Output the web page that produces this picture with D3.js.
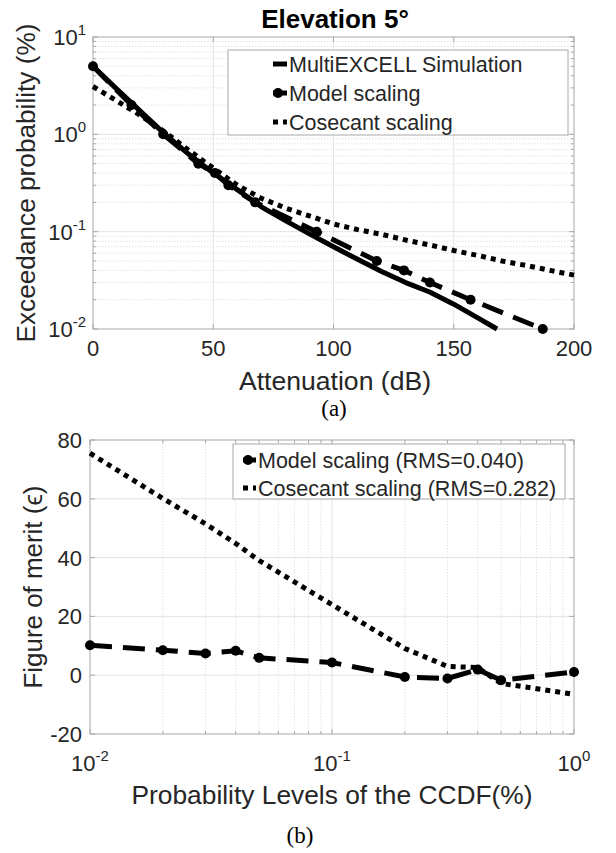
<!DOCTYPE html>
<html><head><meta charset="utf-8">
<script src="https://cdn.jsdelivr.net/npm/d3@7"></script>
<style>
body{margin:0;background:#fff}
svg{display:block}
text{font-family:"Liberation Sans",Arial,Helvetica,sans-serif;fill:#262626}
text.serif{font-family:"Liberation Serif","Times New Roman",serif;fill:#000}
text.title{fill:#000}
</style>
</head><body>
<svg id="c" width="616" height="853"></svg>
<script>
// ---------- Data: panel (a) ----------
const titleA = "Elevation 5°";
const attenSim = [0,10,20,30,40,50,60,70,80,90,100,110,120,130,140,150,160,168];
const probSim  = [5,2.9,1.7,1.0,0.62,0.4,0.27,0.18,0.13,0.095,0.07,0.052,0.039,0.03,0.024,0.018,0.013,0.01];
const attenModel = [0,16,29.2,43.8,50.7,56.3,67.4,93,118,129.3,140.1,157,187];
const probModel  = [5,2,1,0.5,0.4,0.3,0.2,0.1,0.05,0.04,0.03,0.02,0.01];
const attenCsc = [0,10,20,30,40,50,60,70,80,90,100,110,120,130,140,150,160,170,180,190,200];
const probCsc  = [3.1,2.2,1.55,1.05,0.68,0.45,0.3,0.22,0.175,0.145,0.12,0.105,0.094,0.082,0.073,0.064,0.057,0.05,0.045,0.04,0.0358];
const xTicksA = [0,50,100,150,200];
const yTicksA = [0.01,0.1,1,10];
const yTickExpA = ["-2","-1","0","1"];
const legendA = ["MultiEXCELL Simulation","Model scaling","Cosecant scaling"];

// ---------- Data: panel (b) ----------
const probLevels = [0.01,0.02,0.03,0.04,0.05,0.1,0.2,0.3,0.4,0.5,1];
const meritModel = [10.2,8.5,7.4,8.3,5.9,4.3,-0.6,-1.1,1.9,-1.7,1.1];
const meritCsc   = [75.5,60.1,51.5,44.8,39,24,9.1,3.0,2.6,-2.8,-6.5];
const xTicksB = [0.01,0.1,1];
const xTickExpB = ["-2","-1","0"];
const yTicksB = [-20,0,20,40,60,80];
const legendB = ["Model scaling (RMS=0.040)","Cosecant scaling (RMS=0.282)"];

const svg = d3.select("#c");
const GRID = "#e3e3e3", FRAME = "#a8a8a8";
const LW = 5;
const DASH = "22,11", DOT = "5,5";

function minorLog(lo, hi){
  const out=[];
  for(let e=Math.floor(Math.log10(lo)); e<Math.ceil(Math.log10(hi)); e++){
    for(let k=2;k<=9;k++){ const v=k*Math.pow(10,e); if(v>lo && v<hi) out.push(v); }
  }
  return out;
}

// ---------- Panel (a) ----------
const A = {l:93,r:574,t:37,b:329};
const xA = d3.scaleLinear().domain([0,200]).range([A.l,A.r]);
const yA = d3.scaleLog().domain([0.01,10]).range([A.b,A.t]);
const gA = svg.append("g");

gA.selectAll(".gmy").data(minorLog(0.01,10)).join("line")
  .attr("x1",A.l).attr("x2",A.r).attr("y1",d=>yA(d)).attr("y2",d=>yA(d))
  .attr("stroke",GRID).attr("stroke-dasharray","1.5,1.5");
gA.selectAll(".gy").data(yTicksA.slice(1,-1)).join("line")
  .attr("x1",A.l).attr("x2",A.r).attr("y1",d=>yA(d)).attr("y2",d=>yA(d))
  .attr("stroke",GRID);
gA.selectAll(".gx").data(xTicksA.slice(1,-1)).join("line")
  .attr("y1",A.t).attr("y2",A.b).attr("x1",d=>xA(d)).attr("x2",d=>xA(d))
  .attr("stroke",GRID);
const tkA = gA.append("g").attr("stroke",FRAME);
minorLog(0.01,10).forEach(v=>{
  tkA.append("line").attr("x1",A.l).attr("x2",A.l+3).attr("y1",yA(v)).attr("y2",yA(v));
  tkA.append("line").attr("x1",A.r).attr("x2",A.r-3).attr("y1",yA(v)).attr("y2",yA(v));
});
yTicksA.forEach(v=>{
  tkA.append("line").attr("x1",A.l).attr("x2",A.l+5).attr("y1",yA(v)).attr("y2",yA(v));
  tkA.append("line").attr("x1",A.r).attr("x2",A.r-5).attr("y1",yA(v)).attr("y2",yA(v));
});
xTicksA.forEach(v=>{
  tkA.append("line").attr("x1",xA(v)).attr("x2",xA(v)).attr("y1",A.b).attr("y2",A.b-5);
  tkA.append("line").attr("x1",xA(v)).attr("x2",xA(v)).attr("y1",A.t).attr("y2",A.t+5);
});
gA.append("rect").attr("x",A.l).attr("y",A.t).attr("width",A.r-A.l).attr("height",A.b-A.t)
  .attr("fill","none").attr("stroke",FRAME);

gA.selectAll(".xl").data(xTicksA).join("text")
  .attr("x",d=>xA(d)).attr("y",A.b+27).attr("text-anchor","middle")
  .attr("font-size",22).text(d=>d);
yTicksA.forEach((v,i)=>{
  const t = gA.append("text").attr("x",86).attr("y",yA(v)+8).attr("text-anchor","end").attr("font-size",22);
  t.append("tspan").text("10");
  t.append("tspan").attr("dy",-10).attr("font-size",15).text(yTickExpA[i]);
});

const lineA = (xs,ys)=>d3.line().x((d,i)=>xA(xs[i])).y((d,i)=>yA(ys[i]))(xs);
gA.append("path").attr("d",lineA(attenCsc,probCsc)).attr("fill","none")
  .attr("stroke","#000").attr("stroke-width",LW).attr("stroke-dasharray",DOT);
gA.append("path").attr("d",lineA(attenSim,probSim)).attr("fill","none")
  .attr("stroke","#000").attr("stroke-width",LW).attr("stroke-linejoin","round");
gA.append("path").attr("d",lineA(attenModel,probModel)).attr("fill","none")
  .attr("stroke","#000").attr("stroke-width",LW).attr("stroke-dasharray",DASH);
gA.selectAll(".mk").data(attenModel).join("circle")
  .attr("cx",d=>xA(d)).attr("cy",(d,i)=>yA(probModel[i])).attr("r",5).attr("fill","#000");

svg.append("text").attr("class","title").attr("x",335).attr("y",28).attr("text-anchor","middle")
  .attr("font-size",26).attr("font-weight","bold").text(titleA);
svg.append("text").attr("x",335).attr("y",390).attr("text-anchor","middle")
  .attr("font-size",25).attr("textLength",192).attr("lengthAdjust","spacingAndGlyphs").text("Attenuation (dB)");
svg.append("text").attr("transform","translate(35,183) rotate(-90)").attr("text-anchor","middle")
  .attr("font-size",25).attr("textLength",319).attr("lengthAdjust","spacingAndGlyphs").text("Exceedance probability (%)");
svg.append("text").attr("class","serif").attr("x",334).attr("y",416).attr("text-anchor","middle")
  .attr("font-size",23).text("(a)");

const LA = {x:228,y:50,w:340,h:85};
gA.append("rect").attr("x",LA.x).attr("y",LA.y).attr("width",LA.w).attr("height",LA.h)
  .attr("fill","#fff").attr("stroke",FRAME);
const lyA = [64,93,122];
const styA = [null, DASH, DOT];
legendA.forEach((s,i)=>{
  gA.append("line").attr("x1",273).attr("x2",287).attr("y1",lyA[i]).attr("y2",lyA[i])
    .attr("stroke","#000").attr("stroke-width",LW).attr("stroke-dasharray",styA[i]);
  if(i===1) gA.append("circle").attr("cx",278).attr("cy",lyA[i]).attr("r",5).attr("fill","#000");
  gA.append("text").attr("x",289).attr("y",lyA[i]+7.5).attr("font-size",21.5).text(s);
});

// ---------- Panel (b) ----------
const B = {l:90,r:574,t:440,b:734};
const xB = d3.scaleLog().domain([0.01,1]).range([B.l,B.r]);
const yB = d3.scaleLinear().domain([-20,80]).range([B.b,B.t]);
const gB = svg.append("g");

gB.selectAll(".gmx").data(minorLog(0.01,1)).join("line")
  .attr("y1",B.t).attr("y2",B.b).attr("x1",d=>xB(d)).attr("x2",d=>xB(d))
  .attr("stroke",GRID).attr("stroke-dasharray","1.5,1.5");
gB.selectAll(".gx").data(xTicksB.slice(1,-1)).join("line")
  .attr("y1",B.t).attr("y2",B.b).attr("x1",d=>xB(d)).attr("x2",d=>xB(d)).attr("stroke",GRID);
gB.selectAll(".gy").data(yTicksB.slice(1,-1)).join("line")
  .attr("x1",B.l).attr("x2",B.r).attr("y1",d=>yB(d)).attr("y2",d=>yB(d)).attr("stroke",GRID);
const tkB = gB.append("g").attr("stroke",FRAME);
minorLog(0.01,1).forEach(v=>{
  tkB.append("line").attr("x1",xB(v)).attr("x2",xB(v)).attr("y1",B.b).attr("y2",B.b-3);
  tkB.append("line").attr("x1",xB(v)).attr("x2",xB(v)).attr("y1",B.t).attr("y2",B.t+3);
});
xTicksB.forEach(v=>{
  tkB.append("line").attr("x1",xB(v)).attr("x2",xB(v)).attr("y1",B.b).attr("y2",B.b-5);
  tkB.append("line").attr("x1",xB(v)).attr("x2",xB(v)).attr("y1",B.t).attr("y2",B.t+5);
});
yTicksB.forEach(v=>{
  tkB.append("line").attr("x1",B.l).attr("x2",B.l+5).attr("y1",yB(v)).attr("y2",yB(v));
  tkB.append("line").attr("x1",B.r).attr("x2",B.r-5).attr("y1",yB(v)).attr("y2",yB(v));
});
gB.append("rect").attr("x",B.l).attr("y",B.t).attr("width",B.r-B.l).attr("height",B.b-B.t)
  .attr("fill","none").attr("stroke",FRAME);

gB.selectAll(".yl").data(yTicksB).join("text")
  .attr("x",82).attr("y",d=>yB(d)+8).attr("text-anchor","end").attr("font-size",22).text(d=>d);
xTicksB.forEach((v,i)=>{
  const t = gB.append("text").attr("x",xB(v)).attr("y",B.b+37).attr("text-anchor","middle").attr("font-size",22);
  t.append("tspan").text("10");
  t.append("tspan").attr("dy",-10).attr("font-size",15).text(xTickExpB[i]);
});

const lineB = (ys)=>d3.line().x((d,i)=>xB(probLevels[i])).y((d,i)=>yB(ys[i]))(probLevels);
gB.append("path").attr("d",lineB(meritCsc)).attr("fill","none")
  .attr("stroke","#000").attr("stroke-width",LW).attr("stroke-dasharray",DOT);
gB.append("path").attr("d",lineB(meritModel)).attr("fill","none")
  .attr("stroke","#000").attr("stroke-width",LW).attr("stroke-dasharray",DASH);
gB.selectAll(".mk").data(probLevels).join("circle")
  .attr("cx",d=>xB(d)).attr("cy",(d,i)=>yB(meritModel[i])).attr("r",5).attr("fill","#000");

svg.append("text").attr("x",332).attr("y",804).attr("text-anchor","middle")
  .attr("font-size",25).attr("textLength",401).attr("lengthAdjust","spacingAndGlyphs").text("Probability Levels of the CCDF(%)");
svg.append("text").attr("transform","translate(42,587) rotate(-90)").attr("text-anchor","middle")
  .attr("font-size",25).attr("textLength",203).attr("lengthAdjust","spacingAndGlyphs").text("Figure of merit (ϵ)");
svg.append("text").attr("class","serif").attr("x",300).attr("y",843).attr("text-anchor","middle")
  .attr("font-size",23).text("(b)");

const LB = {x:233,y:444,w:332,h:55};
gB.append("rect").attr("x",LB.x).attr("y",LB.y).attr("width",LB.w).attr("height",LB.h)
  .attr("fill","#fff").attr("stroke",FRAME);
const lyB = [460,488];
const styB = [DASH, DOT];
legendB.forEach((s,i)=>{
  gB.append("line").attr("x1",243).attr("x2",256).attr("y1",lyB[i]).attr("y2",lyB[i])
    .attr("stroke","#000").attr("stroke-width",LW).attr("stroke-dasharray",styB[i]);
  if(i===0) gB.append("circle").attr("cx",248).attr("cy",lyB[i]).attr("r",5).attr("fill","#000");
  gB.append("text").attr("x",258).attr("y",lyB[i]+7.5).attr("font-size",21.5).text(s);
});
</script>
</body></html>
